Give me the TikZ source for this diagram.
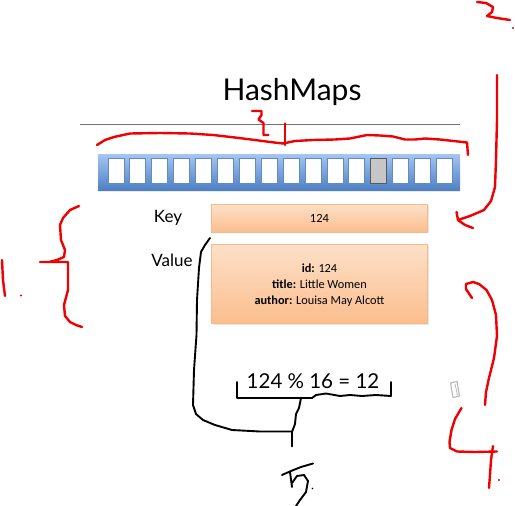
\documentclass[tikz,border=0pt]{standalone}
\usepackage{fontspec}
\setmainfont{Lato}
\newfontfamily\boxfont{Carlito}
\usetikzlibrary{shadows}
\definecolor{bartop}{RGB}{165,198,242}
\definecolor{barbot}{RGB}{78,128,198}
\definecolor{cellblue}{RGB}{100,138,190}
\definecolor{peachtop}{RGB}{253,224,200}
\definecolor{peachbot}{RGB}{251,190,142}
\definecolor{peachline}{RGB}{244,186,138}
\definecolor{inkred}{RGB}{240,0,0}
\begin{document}
\begin{tikzpicture}[x=1pt,y=-1pt,
  redink/.style={draw=inkred, line width=2.4pt, line cap=round, line join=round},
  blackink/.style={draw=black, line width=1.9pt, line cap=round, line join=round},
  cellbox/.style={draw=cellblue, fill=white, line width=0.9pt, minimum width=16pt, minimum height=25pt, inner sep=0pt},
  peachbox/.style={draw=peachline, top color=peachtop, bottom color=peachbot, line width=0.6pt, inner sep=0pt,
     drop shadow={opacity=0.2, shadow xshift=1.2pt, shadow yshift=-1.2pt}},
  lbl/.style={font=\fontsize{17}{20}\selectfont, inner sep=0pt}
]
\useasboundingbox (0,0) rectangle (515,506);

% title and rule
\node[inner sep=0pt, font=\fontsize{30}{36}\selectfont] (title) at (292,92) {HashMaps};
\coordinate (ruleL) at (80,124);
\coordinate (ruleR) at (460,124);
\draw[draw=gray!90!black, line width=0.8pt] (ruleL) -- (ruleR);

% bucket bar
\node[minimum width=362pt, minimum height=36pt, inner sep=0pt, top color=bartop, bottom color=barbot,
      drop shadow={opacity=0.15, shadow xshift=0pt, shadow yshift=-1.5pt}] (bar) at (279,172) {};
\foreach \i in {0,...,15} {
  \node[cellbox] (c\i) at (116+\i*21.9,170.5) {};
}
\node[cellbox, fill=gray!45, draw=gray!70!black] (c12b) at (116+12*21.9,170.5) {};

% key / value
\node[lbl] (key) at (168,218) {Key};
\node[lbl] (value) at (172,260) {Value};
\node[peachbox, minimum width=216pt, minimum height=28pt] (keybox) at (319.5,218.2)
   {\boxfont\fontsize{12.5}{15}\selectfont 124};
\node[peachbox, minimum width=216pt, minimum height=79pt] (valbox) at (319.5,283.8) {};
\node[inner sep=0pt, align=center, font=\boxfont\fontsize{12.3}{16.3}\selectfont] (valtext) at (319.5,285)
   {\textbf{id:} 124\\ \textbf{title:} Little Women\\ \textbf{author:} Louisa May Alcott};

% formula
\node[inner sep=0pt, font=\fontsize{20.5}{25}\selectfont] (formula) at (313,381) {124 \% 16 = 12};

% black hand-drawn strokes
\draw[blackink] (210,238) -- (205,245) -- (201,252) -- (199,268) -- (197,300) -- (196.5,335)
   -- (194,370) -- (193,405) -- (196,414) -- (203,420) -- (215,425) -- (232,430) -- (260,431.5) -- (292,431.5);
\draw[blackink] (292,446.5) -- (292,432) -- (295,424) -- (296,414) -- (299,408) -- (301,398);
\draw[blackink] (237,382) -- (237,398) -- (312,398) -- (316,395) -- (326,393.5) -- (340,396) -- (350,395)
   -- (362,396) -- (376,395) -- (391,396) -- (391,382);
% "5."
\draw[blackink] (282,475) -- (291,471) -- (301,467) -- (313,463.5);
\draw[blackink] (290,472) -- (292,487);
\draw[blackink] (292,483) -- (297,476) -- (304,475) -- (308,481) -- (306,492) -- (300,500) -- (296,506);
\fill (312.5,488.5) circle (0.9);

% small gray icon
\draw[gray!55, line width=1.1pt, line join=round] (450.5,383) -- (457,381.5) -- (459.5,396) -- (453,397.5) -- cycle;
\draw[gray!55, line width=0.8pt] (455,384) -- (457.5,395);

% red annotations
% 1.
\draw[redink] (2,260) -- (3,280) -- (5,296);
\fill[inkred] (21,295.5) circle (1.1);
\draw[redink] (79,206) -- (70,210) -- (63,218) -- (60,225) -- (61,240) -- (65,250) -- (64,257) -- (57,260) -- (49,262)
   -- (40,262) -- (68,262) -- (68,290) -- (64,305) -- (65,316) -- (70,322) -- (76,325) -- (82,327);
% 2.
\draw[redink] (477,2) -- (486,3) -- (493,7) -- (492,12) -- (487,16) -- (497,18) -- (510,20);
\fill[inkred] (513,28) circle (1.1);
\draw[redink] (497,75) -- (497,120) -- (496,160) -- (495,187) -- (491,201) -- (484,210) -- (470,216) -- (458,220);
\draw[redink] (456.5,212) -- (458,220) -- (465,225) -- (473,228);
% 3
\draw[redink] (252,111) -- (261.5,111) -- (261.5,115) -- (258.5,119.5) -- (263.5,123) -- (263.5,135) -- (268.5,135);
\draw[redink] (285,123.5) -- (285,145);
\draw[redink] (97,145) -- (105,140) -- (114,137) -- (130,133.5) -- (160,133) -- (190,133.5) -- (213,135) -- (235,137.5)
   -- (255,140) -- (270,142) -- (283,143.5) -- (295,141) -- (313,140) -- (335,139.5) -- (350,138.5) -- (367,135)
   -- (380,135.5) -- (393,136.5) -- (405,139.5) -- (415,139.5) -- (425,138.5) -- (440,139.5) -- (467,142.5) -- (468,155);
% 4.
\draw[redink] (485,405) -- (486,392) -- (489,378) -- (494,358) -- (497,336) -- (496,315) -- (492,300) -- (486.5,290)
   -- (479,284) -- (473,282) -- (466,284) -- (466,289) -- (472,298);
\draw[redink] (461.5,408) -- (455,419) -- (451.5,430) -- (449.5,442) -- (450,448) -- (457,451.5) -- (475,452) -- (497,451.5);
\draw[redink] (493,446) -- (491,460) -- (490,475) -- (489,488);
\fill[inkred] (499,480) circle (1.1);
\end{tikzpicture}
\end{document}
